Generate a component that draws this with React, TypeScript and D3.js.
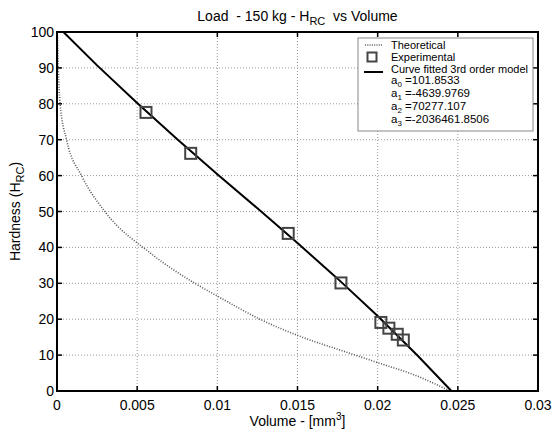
import React from 'react';
import * as d3 from 'd3';

// x ticks / y ticks
const xTicks = [0, 0.005, 0.01, 0.015, 0.02, 0.025, 0.03];
const xTickLabels = ['0', '0.005', '0.01', '0.015', '0.02', '0.025', '0.03'];
const yTicks = [0, 10, 20, 30, 40, 50, 60, 70, 80, 90, 100];

// Theoretical curve
const theoVolume = [0.00002, 0.00008, 0.00019, 0.0006, 0.00154, 0.003, 0.0058, 0.0086, 0.01006, 0.01266, 0.01494, 0.01827, 0.02, 0.0225, 0.0245];
const theoHardness = [100, 90, 80.2, 69.9, 59.9, 49.9, 38.5, 30, 26.3, 20, 15.6, 10.5, 7.9, 4.1, 0];

// Experimental points
const expVolume = [0.00555, 0.00834, 0.01442, 0.01771, 0.0202, 0.0207, 0.02122, 0.0216];
const expHardness = [77.6, 66.2, 43.9, 30.1, 19.1, 17.5, 15.8, 14.2];

// 3rd order fitted curve
const fitVolume = [0.0004, 0.0025, 0.005, 0.0075, 0.01, 0.0125, 0.015, 0.0175, 0.02, 0.0225, 0.0246];
const fitHardness = [100, 90.7, 80.2, 70.1, 60.4, 50.9, 41.2, 31.3, 20.9, 9.8, 0];

const coefNames = ['0', '1', '2', '3'];
const coefValues = ['=101.8533', '=-4639.9769', '=70277.107', '=-2036461.8506'];

const W = 554;
const H = 435;
const margin = { top: 32, right: 16, bottom: 44, left: 57 };
const FONT = '"Liberation Sans", Arial, sans-serif';

export default function App() {
  const iw = 538 - margin.left;
  const ih = 391 - margin.top;

  const x = d3.scaleLinear().domain([0, 0.03]).range([0, iw]);
  const y = d3.scaleLinear().domain([0, 100]).range([ih, 0]);

  const line = d3.line<[number, number]>()
    .x(d => x(d[0]))
    .y(d => y(d[1]));

  const theo = theoVolume.map((v, i) => [v, theoHardness[i]] as [number, number]);
  const fit = fitVolume.map((v, i) => [v, fitHardness[i]] as [number, number]);
  const curve = d3.line<[number, number]>().x(d => x(d[0])).y(d => y(d[1])).curve(d3.curveMonotoneX);

  const lx = 358 - margin.left;
  const ly = 38 - margin.top;

  return (
    <svg width={W} height={H} style={{ position: 'absolute', left: 0, top: 0, fontFamily: FONT }}>
      <rect width={W} height={H} fill="#fff" />
      <text x={margin.left + iw / 2} y={21} textAnchor="middle" fontSize={14} style={{ whiteSpace: 'pre' }}>
        {'Load  - 150 kg - H'}<tspan fontSize={11} dy={4}>RC</tspan><tspan dy={-4}>{'  vs Volume'}</tspan>
      </text>
      <g transform={`translate(${margin.left},${margin.top})`}>
        {/* grid */}
        {xTicks.slice(1, -1).map(t => (
          <line key={'gx' + t} x1={x(t)} x2={x(t)} y1={0} y2={ih} stroke="#999" strokeWidth={1} strokeDasharray="1,2" />
        ))}
        {yTicks.slice(1, -1).map(t => (
          <line key={'gy' + t} x1={0} x2={iw} y1={y(t)} y2={y(t)} stroke="#999" strokeWidth={1} strokeDasharray="1,2" />
        ))}
        {/* ticks */}
        {xTicks.map(t => (
          <g key={'tx' + t}>
            <line x1={x(t)} x2={x(t)} y1={ih} y2={ih - 5} stroke="#000" strokeWidth={1.5} />
            <line x1={x(t)} x2={x(t)} y1={0} y2={5} stroke="#000" strokeWidth={1.5} />
          </g>
        ))}
        {yTicks.map(t => (
          <g key={'ty' + t}>
            <line x1={0} x2={5} y1={y(t)} y2={y(t)} stroke="#000" strokeWidth={1.5} />
            <line x1={iw} x2={iw - 5} y1={y(t)} y2={y(t)} stroke="#000" strokeWidth={1.5} />
          </g>
        ))}
        {/* tick labels */}
        {xTicks.map((t, i) => (
          <text key={'lx' + t} x={x(t)} y={ih + 19} textAnchor="middle" fontSize={14}>{xTickLabels[i]}</text>
        ))}
        {yTicks.map(t => (
          <text key={'ly' + t} x={-3} y={y(t) + 5} textAnchor="end" fontSize={14}>{t}</text>
        ))}

        {/* data */}
        <g>
          <path d={curve(theo) || ''} fill="none" stroke="#555" strokeWidth={1.6} strokeDasharray="1,1.6" />
          <path d={line(fit) || ''} fill="none" stroke="#000" strokeWidth={2} />
          {expVolume.map((v, i) => (
            <rect key={'e' + i} x={x(v) - 5.5} y={y(expHardness[i]) - 5.5} width={11} height={11}
              fill="none" stroke="#444" strokeWidth={2} />
          ))}
        </g>

        {/* frame */}
        <rect x={0} y={0} width={iw} height={ih} fill="none" stroke="#000" strokeWidth={2} />

        {/* legend */}
        <g transform={`translate(${lx},${ly})`} fontSize={11}>
          <rect x={0} y={0} width={175} height={93} fill="#fff" stroke="#888" strokeWidth={1} />
          <line x1={7} x2={24} y1={7} y2={7} stroke="#555" strokeWidth={1.3} strokeDasharray="1,1.3" />
          <text x={33} y={11}>Theoretical</text>
          <rect x={9.5} y={14.5} width={9} height={9} fill="none" stroke="#444" strokeWidth={2} />
          <text x={33} y={23}>Experimental</text>
          <line x1={6} x2={25} y1={34} y2={34} stroke="#000" strokeWidth={2} />
          <text x={33} y={35}>Curve fitted 3rd order model</text>
          {coefNames.map((c, i) => (
            <text key={'c' + c} x={33} y={46 + i * 13} fontSize={11.5}>
              a<tspan fontSize={8} dy={3}>{c}</tspan><tspan dy={-3}> {coefValues[i]}</tspan>
            </text>
          ))}
        </g>
      </g>

      {/* axis titles */}
      <text x={margin.left + iw / 2} y={426} textAnchor="middle" fontSize={14}>
        Volume - [mm<tspan fontSize={10} dy={-6}>3</tspan><tspan dy={6}>]</tspan>
      </text>
      <text transform={`translate(20,${margin.top + ih / 2}) rotate(-90)`} textAnchor="middle" fontSize={14}>
        Hardness (H<tspan fontSize={11} dy={4}>RC</tspan><tspan dy={-4}>)</tspan>
      </text>
    </svg>
  );
}
